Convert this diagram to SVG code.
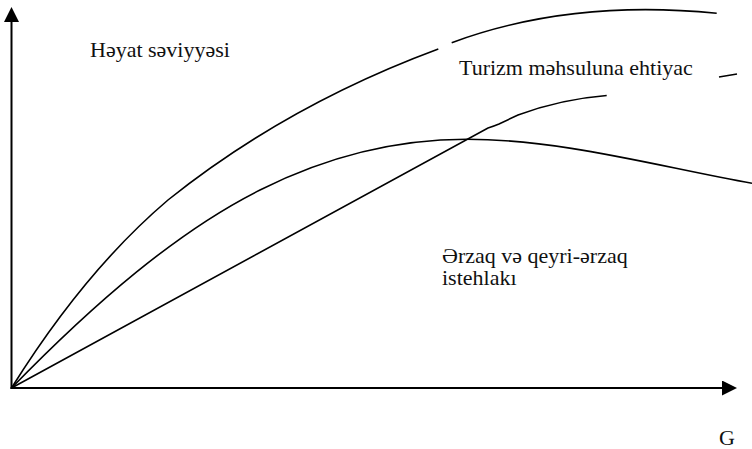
<svg xmlns="http://www.w3.org/2000/svg" width="752" height="449" viewBox="0 0 752 449">
<style>
.axis{fill:none;stroke:#000;stroke-width:2}
.curve{fill:none;stroke:#000;stroke-width:1.6;stroke-linecap:butt}
text{font-family:'Liberation Serif','Times New Roman','DejaVu Serif',serif;font-size:22px;fill:#111}
</style>
<defs>
<marker id="arr" markerUnits="userSpaceOnUse" viewBox="0 0 15 15" markerWidth="15" markerHeight="15" refX="0" refY="7.5" orient="auto">
<path d="M0,0 L15,7.5 L0,15 z" fill="#000"/>
</marker>
</defs>
<rect width="752" height="449" fill="#fff"/>
<g id="axes">
<line class="axis" x1="11.5" y1="389" x2="11.5" y2="22" marker-end="url(#arr)"/>
<line class="axis" x1="10.5" y1="388" x2="722" y2="388" marker-end="url(#arr)"/>
</g>
<g id="curves">
<path id="heyat" class="curve" d="M11.5,388 C63.5,304.8 116,244.2 168,200 C258,128 348.3,82.3 438.3,49 M451.7,42.7 C540,10 628.4,4.5 716.7,13.3"/>
<path id="erzaq" class="curve" d="M11.5,388 C94.3,303 177.2,231.4 260,190 C328.9,155.5 397.8,139.3 466.7,139.3 C561.7,139.3 657,166.2 752,183.3"/>
<path id="turizm" class="curve" d="M11.5,388 L488,128 Q493,126.5 499,124 L518,115 C545,105 575,98 606.7,95.5 M719,77 L737,74"/>
</g>
<g id="labels">
<text x="90" y="57">Həyat səviyyəsi</text>
<text x="459" y="75">Turizm məhsuluna ehtiyac</text>
<text x="442" y="263">Ərzaq və qeyri-ərzaq</text>
<text x="442" y="285">istehlakı</text>
<text x="719" y="445">G</text>
</g>
</svg>
